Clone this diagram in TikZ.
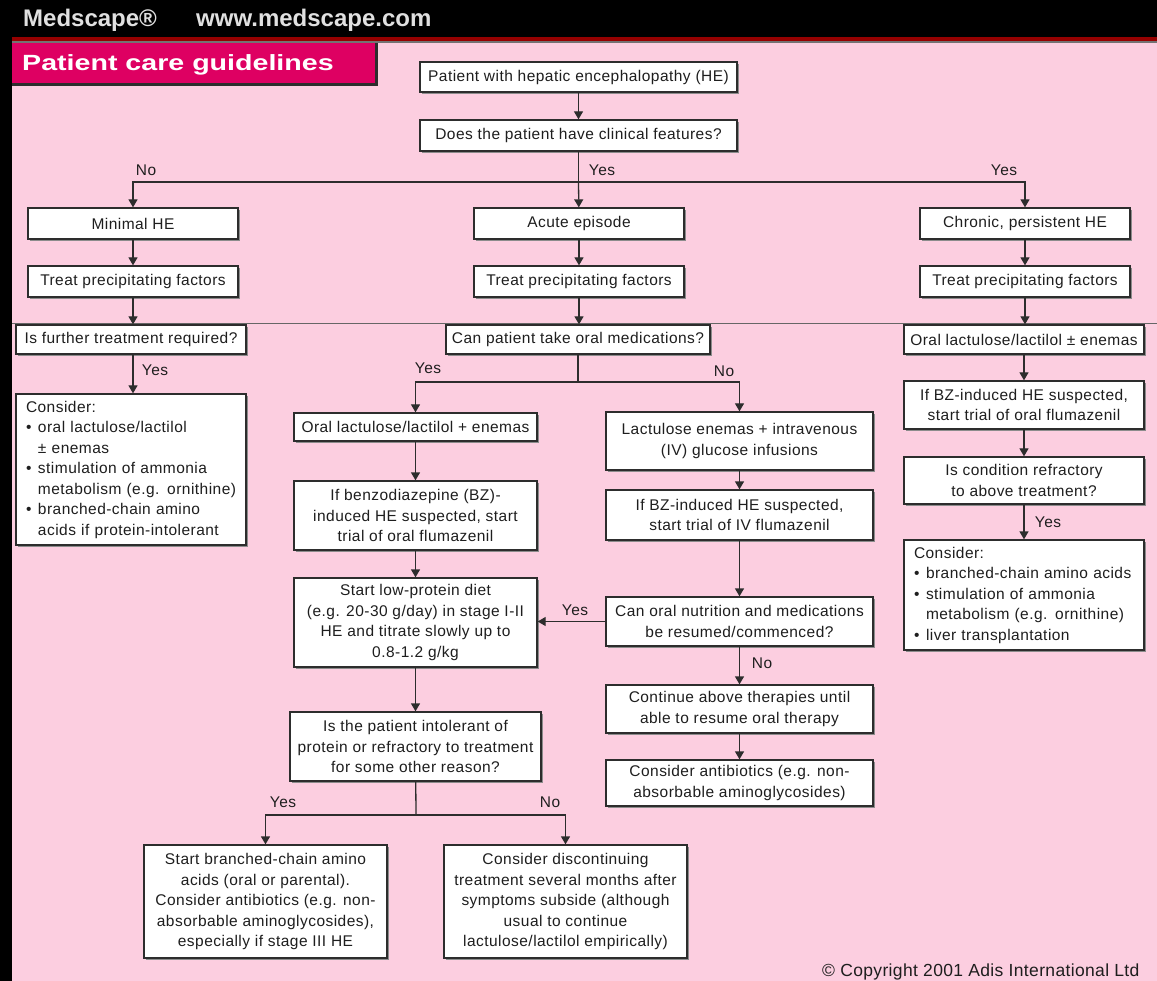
\documentclass[tikz,border=0pt]{standalone}
\usepackage{fontspec}
\setmainfont{Liberation Sans}
\usetikzlibrary{arrows.meta,shadows}
\definecolor{pinkbg}{RGB}{252,206,224}
\definecolor{hdrc}{RGB}{222,0,98}
\definecolor{linec}{RGB}{45,45,45}
\definecolor{txtc}{RGB}{30,30,30}
\definecolor{redline}{RGB}{150,0,0}
\newcommand{\bxfont}{\fontsize{15.5}{20.5}\selectfont\addfontfeatures{LetterSpace=3}}
\begin{document}
\begin{tikzpicture}[x=1pt,y=-1pt,
  bx/.style={draw=linec, fill=white, line width=1.3pt, inner sep=0pt, align=center,
    font=\bxfont, text=txtc,
    drop shadow={shadow xshift=1.6pt, shadow yshift=-1.6pt, fill=black!45, opacity=1}},
  lbox/.style={bx, align=left, inner xsep=10pt},
  arr/.style={draw=linec, line width=1.3pt, -{Triangle[width=9pt,length=8pt]}},
  ln/.style={draw=linec, line width=1.3pt},
  lbl/.style={font=\bxfont, text=txtc, inner sep=0pt},
]
\useasboundingbox (0,0) rectangle (1157,981);
% background
\fill[black] (0,0) rectangle (1157,981);
\fill[pinkbg] (12,43) rectangle (1157,981);
\fill[redline] (12,37) rectangle (1157,41);
\fill[black!55] (12,41) rectangle (1157,43);
% header
\fill[linec] (12,43) rectangle (378,86);
\fill[hdrc] (12,43) rectangle (375,83);
\node[anchor=west, text=black!12, font=\fontsize{24}{24}\selectfont\bfseries, inner sep=0pt] (ms) at (23,20) {Medscape®};
\node[anchor=west, text=black!12, font=\fontsize{24}{24}\selectfont\bfseries, inner sep=0pt] (www) at (196,20) {www.medscape.com};
\node[anchor=west, text=white, font=\fontsize{22}{22}\selectfont\bfseries, inner sep=0pt] (hd) at (22,65) {\scalebox{1.3}[1]{Patient care guidelines}};
% separator line
\draw[black!60, line width=0.8pt] (12,323) -- (1157,323);

% boxes
\node[bx, minimum width=317pt, minimum height=30pt] (b1) at (578.5,77) {Patient with hepatic encephalopathy (HE)};
\node[bx, minimum width=317pt, minimum height=31pt] (b2) at (578.5,135.5) {Does the patient have clinical features?};
\node[bx, minimum width=210pt, minimum height=31pt] (b3) at (133,223.5) {Minimal HE};
\node[bx, minimum width=210pt, minimum height=31pt] (b4) at (579,223.5) {Acute episode};
\node[bx, minimum width=210pt, minimum height=31pt] (b5) at (1025,223.5) {Chronic, persistent HE};
\node[bx, minimum width=210pt, minimum height=31pt] (b6) at (133,281.5) {Treat precipitating factors};
\node[bx, minimum width=210pt, minimum height=31pt] (b7) at (579,281.5) {Treat precipitating factors};
\node[bx, minimum width=210pt, minimum height=31pt] (b8) at (1025,281.5) {Treat precipitating factors};
\node[bx, minimum width=230pt, minimum height=29pt] (b9) at (131,339.5) {Is further treatment required?};
\node[bx, minimum width=264pt, minimum height=29pt] (b10) at (578,339.5) {Can patient take oral medications?};
\node[bx, minimum width=240pt, minimum height=29pt] (b11) at (1024,339.5) {Oral lactulose/lactilol ± enemas};

\node[lbox, text width=210pt, minimum height=151pt] (c1) at (131,469.5) {Consider:\\
\makebox[12pt][l]{•}oral lactulose/lactilol\\
\hspace*{12pt}± enemas\\
\makebox[12pt][l]{•}stimulation of ammonia\\
\hspace*{12pt}metabolism (e.g. ornithine)\\
\makebox[12pt][l]{•}branched-chain amino\\
\hspace*{12pt}acids if protein-intolerant};

\node[bx, minimum width=243pt, minimum height=28pt] (b12) at (415.5,427) {Oral lactulose/lactilol + enemas};
\node[bx, minimum width=267pt, minimum height=58pt] (b13) at (739.5,441) {Lactulose enemas + intravenous\\(IV) glucose infusions};
\node[bx, minimum width=243pt, minimum height=69pt] (b14) at (415.5,515.5) {If benzodiazepine (BZ)-\\induced HE suspected, start\\trial of oral flumazenil};
\node[bx, minimum width=267pt, minimum height=50pt] (b15) at (739.5,515) {If BZ-induced HE suspected,\\start trial of IV flumazenil};
\node[bx, minimum width=243pt, minimum height=89pt] (b16) at (415.5,622.5) {Start low-protein diet\\(e.g. 20-30 g/day) in stage I-II\\HE and titrate slowly up to\\0.8-1.2 g/kg};
\node[bx, minimum width=267pt, minimum height=49pt] (b17) at (739.5,621.5) {Can oral nutrition and medications\\be resumed/commenced?};
\node[bx, minimum width=267pt, minimum height=48pt] (b18) at (739.5,709) {Continue above therapies until\\able to resume oral therapy};
\node[bx, minimum width=267pt, minimum height=46pt] (b19) at (739.5,783) {Consider antibiotics (e.g. non-\\absorbable aminoglycosides)};
\node[bx, minimum width=251pt, minimum height=69pt] (b20) at (415.5,746.5) {Is the patient intolerant of\\protein or refractory to treatment\\for some other reason?};
\node[bx, minimum width=243pt, minimum height=113pt] (b21) at (265.5,901.5) {Start branched-chain amino\\acids (oral or parental).\\Consider antibiotics (e.g. non-\\absorbable aminoglycosides),\\especially if stage III HE};
\node[bx, minimum width=243pt, minimum height=113pt] (b22) at (565.5,901.5) {Consider discontinuing\\treatment several months after\\symptoms subside (although\\usual to continue\\lactulose/lactilol empirically)};
\node[bx, minimum width=240pt, minimum height=48pt] (b23) at (1024,405) {If BZ-induced HE suspected,\\start trial of oral flumazenil};
\node[bx, minimum width=240pt, minimum height=47pt] (b24) at (1024,480.5) {Is condition refractory\\to above treatment?};
\node[lbox, text width=220pt, minimum height=110pt] (c2) at (1024,595) {Consider:\\
\makebox[12pt][l]{•}branched-chain amino acids\\
\makebox[12pt][l]{•}stimulation of ammonia\\
\hspace*{12pt}metabolism (e.g. ornithine)\\
\makebox[12pt][l]{•}liver transplantation};

% junctions
\coordinate (j1) at (578.5,182);
\coordinate (j2) at (578,382);
\coordinate (j3) at (416,815);

% connectors
\draw[arr] (b1) -- (b2);
\draw[ln] (b2) -- (j1);
\draw[arr] (j1) -| (b3);
\draw[arr] (j1) -- (b4);
\draw[arr] (j1) -| (b5);
\draw[arr] (b3) -- (b6);
\draw[arr] (b4) -- (b7);
\draw[arr] (b5) -- (b8);
\draw[arr] (b6.south) -- (b6.south |- b9.north);
\draw[arr] (b7.south) -- (b7.south |- b10.north);
\draw[arr] (b8.south) -- (b8.south |- b11.north);
\draw[arr] (b9.south -| b6.south) -- (b6.south |- c1.north);
\draw[ln] (b10) -- (j2);
\draw[arr] (j2) -| (b12);
\draw[arr] (j2) -| (b13);
\draw[arr] (b12) -- (b14);
\draw[arr] (b14) -- (b16);
\draw[arr] (b16) -- (b20);
\draw[arr] (b13) -- (b15);
\draw[arr] (b15) -- (b17);
\draw[arr] (b17) -- (b18);
\draw[arr] (b18) -- (b19);
\draw[arr] (b17.west) -- (b16.east |- b17.west);
\draw[ln] (b20) -- (j3);
\draw[arr] (j3) -| (b21);
\draw[arr] (j3) -| (b22);
\draw[arr] (b11.south -| b24.south) -- (b23);
\draw[arr] (b23) -- (b24);
\draw[arr] (b24) -- (c2);

% labels
\node[lbl] (l1) at (146,170) {No};
\node[lbl] (l2) at (602,170) {Yes};
\node[lbl] (l3) at (1004,170) {Yes};
\node[lbl] (l4) at (155,370) {Yes};
\node[lbl] (l5) at (428,368) {Yes};
\node[lbl] (l6) at (724,371) {No};
\node[lbl] (l7) at (575,610) {Yes};
\node[lbl] (l8) at (762,663) {No};
\node[lbl] (l9) at (1048,522) {Yes};
\node[lbl] (l10) at (283,802) {Yes};
\node[lbl] (l11) at (550,802) {No};

% copyright
\node[anchor=base west, font=\fontsize{17.5}{18}\selectfont\addfontfeatures{LetterSpace=2}, text=txtc, inner sep=0pt] (cp) at (822,976) {© Copyright 2001 Adis International Ltd};
\end{tikzpicture}
\end{document}
